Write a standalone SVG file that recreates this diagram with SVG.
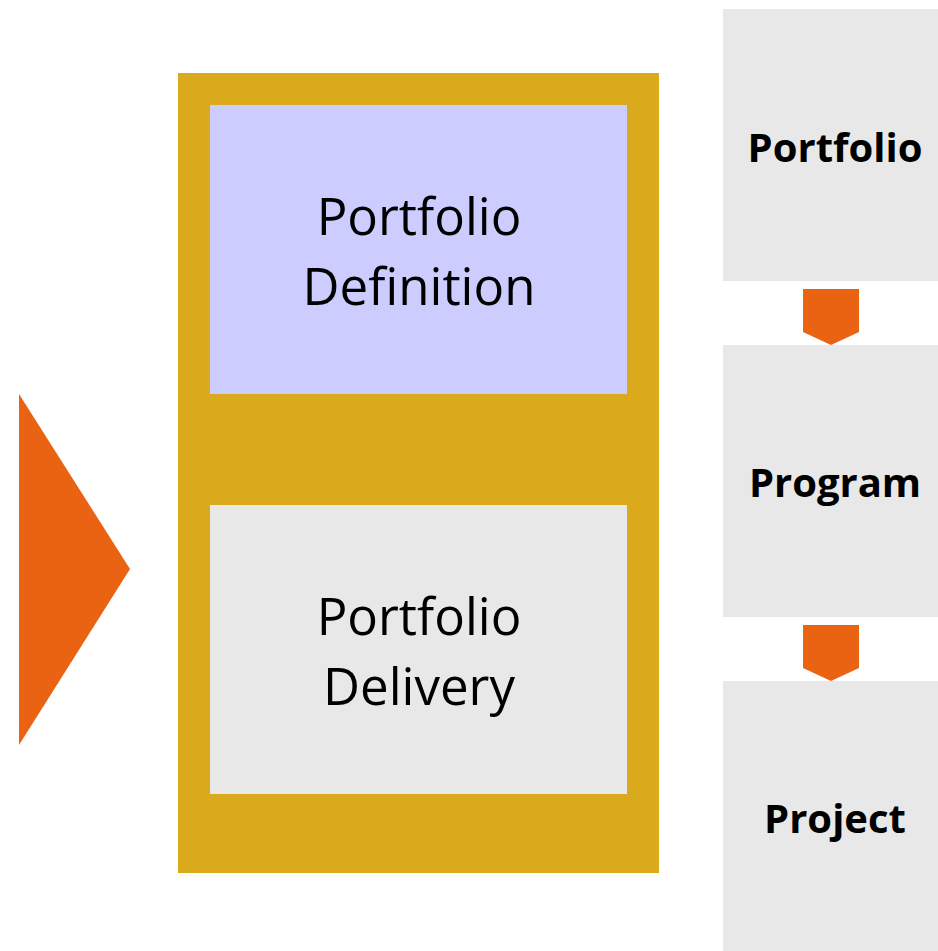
<svg xmlns="http://www.w3.org/2000/svg" width="938" height="951" viewBox="0 0 938 951">
  <style>
    .arrow { fill: #EA6312; }
    .stage { fill: #E8E8E8; }
    .big { font-family: "Open Sans", "Noto Sans", sans-serif; font-size: 51px; fill: #000; text-anchor: middle; }
    .lvl { font-family: "Open Sans", "Noto Sans", sans-serif; font-size: 40px; font-weight: bold; fill: #000; text-anchor: middle; }
  </style>
  <rect width="938" height="951" fill="#FFFFFF"/>

  <!-- entry arrow -->
  <g id="entry-arrow">
    <polygon class="arrow" points="19,394 130,569 19,745"/>
  </g>

  <!-- portfolio management container -->
  <g id="portfolio-management">
    <rect x="178" y="73" width="481" height="800" fill="#DAA91C"/>
  </g>
  <g id="portfolio-definition">
    <rect x="210" y="105" width="417" height="289" fill="#CCCCFF"/>
    <text class="big" x="419" y="235">Portfolio</text>
    <text class="big" x="419" y="305">Definition</text>
  </g>
  <g id="portfolio-delivery">
    <rect x="210" y="505" width="417" height="289" fill="#E8E8E8"/>
    <text class="big" x="419" y="635">Portfolio</text>
    <text class="big" x="419" y="705">Delivery</text>
  </g>

  <!-- hierarchy levels -->
  <g id="level-portfolio">
    <rect class="stage" x="723" y="9" width="215" height="272"/>
    <text class="lvl" x="835" y="162">Portfolio</text>
  </g>
  <g id="level-program">
    <rect class="stage" x="723" y="345" width="215" height="272"/>
    <text class="lvl" x="835" y="497">Program</text>
  </g>
  <g id="level-project">
    <rect class="stage" x="723" y="681" width="215" height="270"/>
    <text class="lvl" x="835" y="833">Project</text>
  </g>

  <!-- connectors between levels -->
  <g id="connectors">
    <polygon class="arrow" points="803,289 859,289 859,332 831,345 803,332"/>
    <polygon class="arrow" points="803,625 859,625 859,668 831,681 803,668"/>
  </g>
</svg>
